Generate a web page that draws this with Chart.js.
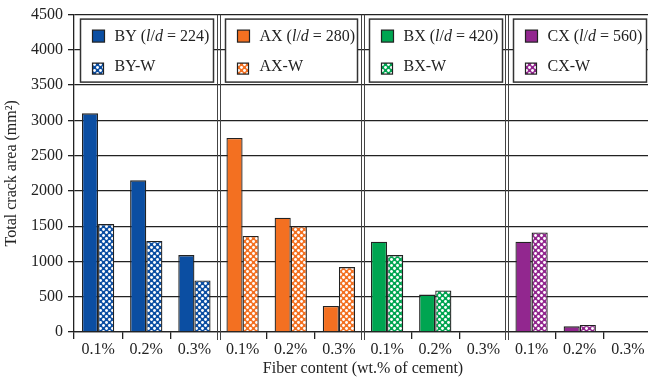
<!DOCTYPE html>
<html lang="en">
    <head>
        <meta charset="UTF-8" />
        <title>Total crack area</title>
        <style>
            body {
                margin: 0;
                padding: 0;
                background: #fff;
                overflow: hidden;
                width: 648px;
                height: 381px;
            }
            #chart {
                display: block;
            }
        </style>
        <script src="https://cdn.jsdelivr.net/npm/chart.js"></script>
    </head>
    <body>
        <canvas id="chart" width="652" height="381"></canvas>
        <script>
            const fiberContents = ["0.1%", "0.2%", "0.3%"];
            const groupNames = ["BY", "AX", "BX", "CX"];
            const aspectRatios = [224, 280, 420, 560];
            const groupColors = ["#0B4EA2", "#F37021", "#00A551", "#92278F"];
            // plain fibers, then the W variant (null = no bar)
            const plainArea = [3100, 2150, 1090, 2750, 1620, 370, 1280, 530, null, 1280, 80, null];
            const wArea = [1530, 1290, 730, 1360, 1500, 920, 1090, 590, null, 1410, 100, null];
            const yMax = 4500;
            const yStep = 500;

            const categories = groupNames.flatMap(() => fiberContents);
            const ink = "#222";
            const fontSize = 16;

            Chart.defaults.font.family = '"Liberation Serif", "Times New Roman", serif';
            Chart.defaults.font.size = fontSize;
            Chart.defaults.color = ink;

            const canvas = document.getElementById("chart");
            const mainCtx = canvas.getContext("2d");

            function hatch(color) {
                const c = document.createElement("canvas");
                c.width = 6;
                c.height = 6;
                const g = c.getContext("2d");
                g.fillStyle = color;
                g.fillRect(0, 0, 6, 6);
                g.fillStyle = "#fff";
                [[1.5, 1.5], [4.5, 4.5]].forEach(([px, py]) => {
                    g.beginPath();
                    g.arc(px, py, 1.45, 0, Math.PI * 2);
                    g.fill();
                });
                return mainCtx.createPattern(c, "repeat");
            }

            const patterns = groupColors.map(hatch);
            const groupOf = (i) => Math.floor(i / fiberContents.length);

            const panelPlugin = {
                id: "panels",
                afterDraw(chart) {
                    const { ctx, chartArea, scales } = chart;
                    const x = scales.x;
                    const half = (x.getPixelForValue(1) - x.getPixelForValue(0)) / 2;
                    const n = fiberContents.length;
                    ctx.save();

                    // double separators between the groups
                    ctx.strokeStyle = "#444";
                    ctx.lineWidth = 1;
                    for (let g = 1; g < groupNames.length; g++) {
                        const sx = Math.round(x.getPixelForValue(g * n) - half);
                        [sx - 1.5, sx + 1.5].forEach((lx) => {
                            ctx.beginPath();
                            ctx.moveTo(lx, chartArea.top);
                            ctx.lineTo(lx, chartArea.bottom + 8);
                            ctx.stroke();
                        });
                    }

                    // legend box in each panel
                    groupNames.forEach((name, g) => {
                        const left = Math.round(x.getPixelForValue(g * n) - half) + 6.5;
                        const right = Math.round(x.getPixelForValue(g * n + n - 1) + half) - 5.5;
                        const top = chartArea.top + 4.5;
                        const h = 63;
                        ctx.fillStyle = "#fff";
                        ctx.fillRect(left, top, right - left, h);
                        ctx.strokeStyle = "#333";
                        ctx.lineWidth = 1.5;
                        ctx.strokeRect(left, top, right - left, h);

                        ctx.lineWidth = 1.2;
                        ctx.strokeStyle = ink;
                        ctx.fillStyle = groupColors[g];
                        ctx.fillRect(left + 12, top + 11, 12, 12);
                        ctx.strokeRect(left + 12, top + 11, 12, 12);
                        ctx.fillStyle = patterns[g];
                        ctx.fillRect(left + 12, top + 44, 11, 11);
                        ctx.strokeRect(left + 12, top + 44, 11, 11);

                        const normal = fontSize + 'px "Liberation Serif", serif';
                        const italic = "italic " + normal;
                        const parts = [
                            [name + " (", normal],
                            ["l", italic],
                            ["/", normal],
                            ["d", italic],
                            [" = " + aspectRatios[g] + ")", normal],
                        ];
                        ctx.fillStyle = ink;
                        ctx.textBaseline = "alphabetic";
                        ctx.textAlign = "left";
                        let tx = left + 34;
                        parts.forEach(([t, f]) => {
                            ctx.font = f;
                            ctx.fillText(t, tx, top + 22);
                            tx += ctx.measureText(t).width;
                        });
                        ctx.font = normal;
                        ctx.fillText(name + "-W", left + 34, top + 52);
                    });
                    ctx.restore();
                },
            };

            new Chart(mainCtx, {
                type: "bar",
                data: {
                    labels: categories,
                    datasets: [
                        {
                            label: "plain",
                            data: plainArea,
                            backgroundColor: plainArea.map((v, i) => groupColors[groupOf(i)]),
                            borderColor: ink,
                            borderWidth: 1.3,
                            categoryPercentage: 0.67,
                            barPercentage: 1,
                        },
                        {
                            label: "W",
                            data: wArea,
                            backgroundColor: wArea.map((v, i) => patterns[groupOf(i)]),
                            borderColor: ink,
                            borderWidth: 1.3,
                            categoryPercentage: 0.67,
                            barPercentage: 1,
                        },
                    ],
                },
                options: {
                    responsive: false,
                    animation: false,
                    layout: { padding: { top: 11, right: 0, left: 0, bottom: 0 } },
                    plugins: {
                        legend: { display: false },
                        tooltip: { enabled: false },
                    },
                    scales: {
                        x: {
                            afterFit(scale) {
                                scale.height = 49;
                            },
                            grid: {
                                drawOnChartArea: false,
                                tickLength: 7,
                                lineWidth: 1.3,
                                color: (c) =>
                                    c.index > 0 && c.index % fiberContents.length === 0 ? "rgba(0,0,0,0)" : ink,
                            },
                            border: { color: ink, width: 1.3 },
                            ticks: { padding: 1, maxRotation: 0, autoSkip: false },
                            title: {
                                display: true,
                                text: "Fiber content (wt.% of cement)",
                                padding: { top: 0, bottom: 3 },
                            },
                        },
                        y: {
                            min: 0,
                            max: yMax,
                            afterFit(scale) {
                                scale.width = 74;
                            },
                            ticks: { stepSize: yStep, padding: 5, callback: (v) => String(v) },
                            grid: { color: ink, lineWidth: 1.3, tickLength: 6 },
                            border: { color: ink, width: 1.3 },
                            title: {
                                display: true,
                                text: "Total crack area (mm²)",
                                padding: { top: 2, bottom: 0 },
                            },
                        },
                    },
                },
                plugins: [panelPlugin],
            });
        </script>
    </body>
</html>
